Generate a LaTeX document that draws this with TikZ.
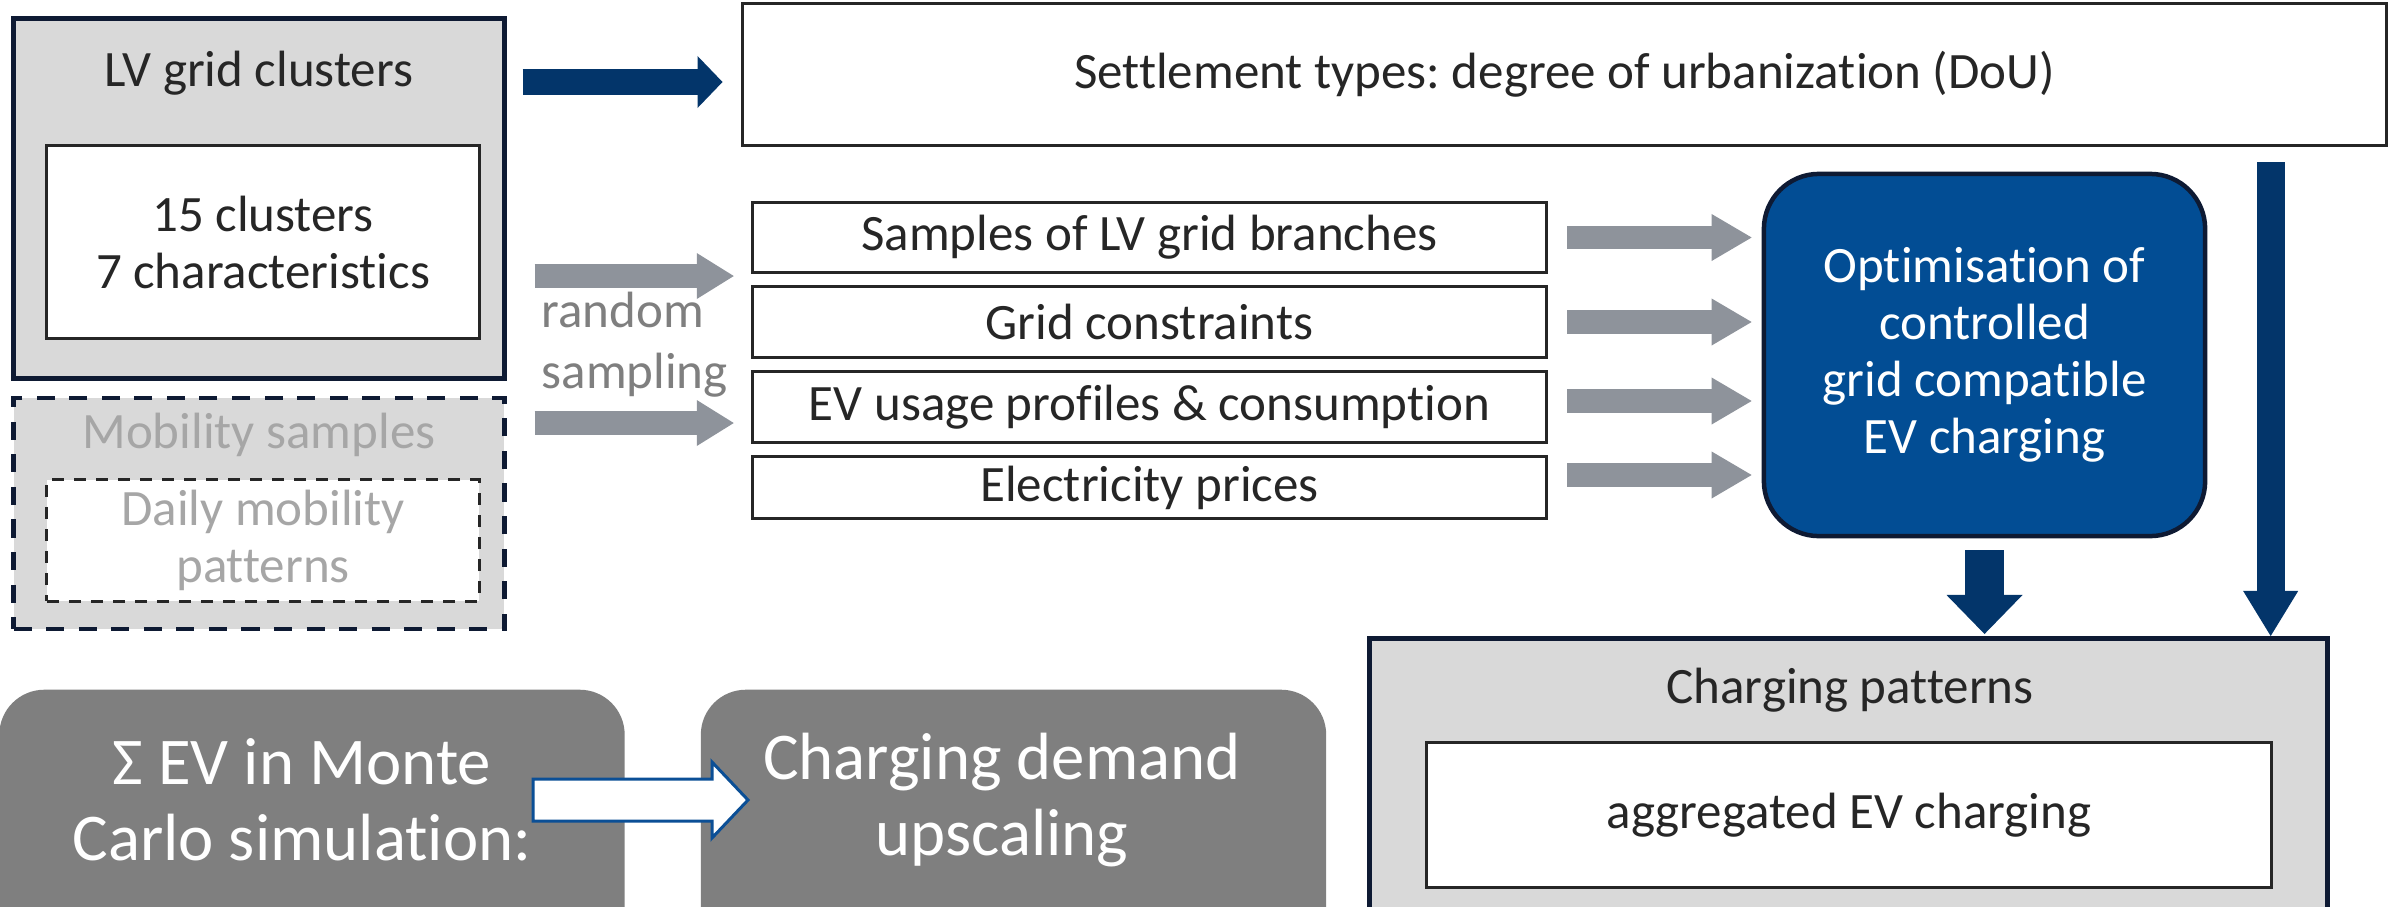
\documentclass[tikz,border=0pt]{standalone}
\usepackage{fontspec}
\setmainfont{Carlito}[Ligatures=NoCommon]
\frenchspacing
\usetikzlibrary{arrows.meta}
\definecolor{navyedge}{RGB}{14,26,51}
\definecolor{arrownavy}{RGB}{3,53,106}
\definecolor{optblue}{RGB}{2,77,148}
\definecolor{pushblue}{RGB}{11,79,150}
\definecolor{panelgray}{RGB}{217,217,217}
\definecolor{arrowgray}{RGB}{142,147,155}
\definecolor{mcgray}{RGB}{127,127,127}
\definecolor{ink}{RGB}{38,38,38}
\definecolor{faded}{RGB}{166,166,166}

\begin{document}
\begin{tikzpicture}[x=0.01cm,y=-0.01cm,font=\fontsize{14.5}{16.2}\selectfont,text=ink,
  panel/.style={draw=navyedge,line width=0.048cm,fill=panelgray,inner sep=0pt},
  whitebox/.style={draw=ink,line width=0.03cm,fill=white,inner sep=0pt,align=center},
  grayarrow/.style={draw=arrowgray,line width=0.235cm,-{Triangle[length=0.4cm,width=0.47cm,line width=0pt]}},
  navyarrow/.style={draw=arrownavy,-{Triangle[length=0.25cm,width=0.52cm,line width=0pt]}},
  mcbox/.style={fill=mcgray,rounded corners=0.45cm,anchor=north,minimum width=6.25cm,minimum height=3cm},
  bigtext/.style={text=white,align=center,font=\fontsize{19}{21.6}\selectfont}]
\useasboundingbox (0,0) rectangle (2395,906);
\clip (0,0) rectangle (2395,906);
% left column
\node[panel,minimum width=4.9cm,minimum height=3.59cm] (lvgrid) at (259,198.5) {};
\node (lvtitle) at (259,73) {LV grid clusters};
\node[whitebox,minimum width=4.32cm,minimum height=1.92cm] (lvinner) at (263,242) {15 clusters\\7 characteristics};
\node[panel,dash pattern=on 0.18cm off 0.145cm,minimum width=4.9cm,minimum height=2.31cm] (mob) at (259,513.5) {};
\node[text=faded] (mobtitle) at (259,435) {Mobility samples};
\node[whitebox,text=faded,dash pattern=on 0.12cm off 0.1cm,minimum width=4.32cm,minimum height=1.21cm] (mobinner) at (263,540.5) {Daily mobility\\patterns};
% inputs
\node[whitebox,minimum width=16.43cm,minimum height=1.41cm] (dou) at (1564.5,74.5) {Settlement types: degree of urbanization (DoU)};
\node[whitebox,minimum width=7.93cm,minimum height=0.69cm] (branches) at (1149.5,237.5) {Samples of LV grid branches};
\node[whitebox,minimum width=7.93cm,minimum height=0.7cm] (constr) at (1149.5,322) {Grid constraints};
\node[whitebox,minimum width=7.93cm,minimum height=0.7cm] (usage) at (1149.5,407) {EV usage profiles \& consumption};
\node[whitebox,minimum width=7.93cm,minimum height=0.61cm] (prices) at (1149.5,487.5) {Electricity prices};
\node[text=mcgray,align=left,anchor=west,inner sep=0pt,font=\fontsize{14.5}{17.4}\selectfont] (rs) at (541,345) {random\\sampling};
% optimisation and result
\node[draw=navyedge,line width=0.045cm,fill=optblue,rounded corners=0.55cm,minimum width=4.41cm,minimum height=3.62cm,text=white,align=center] (opt) at (1984.5,355) {Optimisation of\\controlled\\grid compatible\\EV charging};
\node[panel,anchor=north,minimum width=9.57cm,minimum height=3.2cm] (cp) at (1848.5,636) {};
\node (cptitle) at (1850,690) {Charging patterns};
\node[whitebox,minimum width=8.44cm,minimum height=1.44cm] (cpinner) at (1849,815) {aggregated EV charging};
% monte carlo
\node[mcbox] (mc) at (312,689) {};
\node[bigtext] (mctext) at (302,800) {Σ EV in Monte\\Carlo simulation:};
\node[mcbox] (up) at (1013.5,689) {};
\node[bigtext] (uptext) at (1002,800) {Charging demand\\upscaling};

% arrows
\coordinate (douin) at ([yshift=-0.075cm]dou.west);
\draw[navyarrow,line width=0.26cm,shorten <=0.16cm,shorten >=0.185cm] (douin -| lvgrid.east) -- (douin);
\coordinate (samplein) at ([yshift=-0.385cm]branches.west);
\coordinate (usagein) at ([yshift=-0.16cm]usage.west);
\draw[grayarrow,line width=0.24cm,-{Triangle[length=0.37cm,width=0.46cm,line width=0pt]},shorten <=0.28cm,shorten >=0.175cm] (samplein -| lvgrid.east) -- (samplein);
\draw[grayarrow,line width=0.24cm,-{Triangle[length=0.37cm,width=0.46cm,line width=0pt]},shorten <=0.28cm,shorten >=0.175cm] (usagein -| mob.east) -- (usagein);
\foreach \n/\dy in {branches/0,constr/0,usage/0.06,prices/0.125}{
  \coordinate (out) at ([yshift=\dy cm]\n.east);
  \draw[grayarrow,shorten <=0.195cm,shorten >=0.1cm] (out) -- (out -| opt.west);
}
\draw[navyarrow,line width=0.39cm,-{Triangle[length=0.39cm,width=0.76cm,line width=0pt]},shorten <=0.12cm,shorten >=0.02cm] (opt.south) -- (opt.south |- cp.north);
\coordinate (drop) at ([xshift=-0.59cm]cp.north east);
\draw[navyarrow,line width=0.28cm,-{Triangle[length=0.45cm,width=0.55cm,line width=0pt]},shorten <=0.155cm] (drop |- dou.south) -- (drop);
\coordinate (pushtail) at (533,800);
\draw[fill=white,draw=pushblue,line width=0.03cm] (pushtail) ++(0,-21) -- ++(179,0) -- ++(0,-17) -- ++(36,38) -- ++(-36,38) -- ++(0,-17) -- ++(-179,0) -- cycle;
\end{tikzpicture}
\end{document}
